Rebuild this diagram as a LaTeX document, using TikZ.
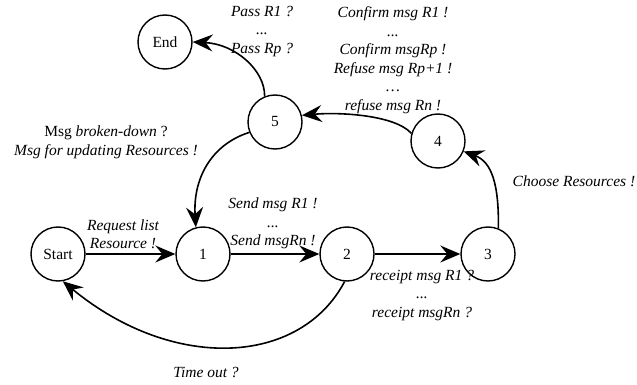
\documentclass[tikz,border=0pt]{standalone}
\usepackage{fontspec}
\setmainfont{Liberation Serif}
\usetikzlibrary{arrows.meta}
\begin{document}
\begin{tikzpicture}[x=1pt,y=-1pt,
  state/.style={circle,draw,line width=1.4pt,minimum size=54pt,inner sep=0pt,font=\fontsize{15.5}{18}\selectfont},
  edge/.style={line width=1.6pt,-{Stealth[length=20pt,width=17pt,inset=7pt]}},
  lbl/.style={align=center,font=\fontsize{15.5}{18.5}\selectfont\itshape,inner sep=0pt}]
\useasboundingbox (0,0) rectangle (637,385);

\node[state] (start) at (58,254) {Start};
\node[state] (n1) at (203,254) {1};
\node[state] (n2) at (347,254) {2};
\node[state] (n3) at (488,254) {3};
\node[state] (n4) at (438,141) {4};
\node[state] (n5) at (275,122) {5};
\node[state] (end) at (165,42) {End};

\draw[edge] (start) -- (n1);
\draw[edge] (n1) -- (n2);
\draw[edge] (n2) -- (n3);
\draw[edge] (n3.68) .. controls (499,185) and (492,162) .. (n4.-22);
\draw[edge] (n4.164) .. controls (395,115) and (340,112) .. (n5.14);
\draw[edge] (n5.112) .. controls (265,70) and (235,44) .. (end.0);
\draw[edge] (n5.202) .. controls (210,145) and (193,180) .. (n1.105);
\draw[edge] (n2.-95) .. controls (300,366) and (173,372) .. (start.-80);

\node[lbl] (lreq) at (123,234) {Request list\\Resource !};
\node[lbl] (lsend) at (273,223.5) {Send msg R1 !\\...\\Send msgRn !};
\node[lbl] (lrec) at (422,295.5) {receipt msg R1 ?\\...\\receipt msgRn ?};
\node[lbl] (lchoose) at (574,181) {Choose Resources !};
\node[lbl] (lconf) at (393,60) {Confirm msg R1 !\\...\\Confirm msgRp !\\Refuse msg Rp+1 !\\…\\refuse msg Rn !};
\node[lbl] (lpass) at (262,31.5) {Pass R1 ?\\...\\Pass Rp ?};
\node[lbl,font=\fontsize{15.5}{18.5}\selectfont] (lmsg) at (106,142.5) {Msg \textit{broken-down} ?\\\textit{Msg for updating Resources !}};
\node[lbl] (ltime) at (206,372) {Time out ?};
\end{tikzpicture}
\end{document}
